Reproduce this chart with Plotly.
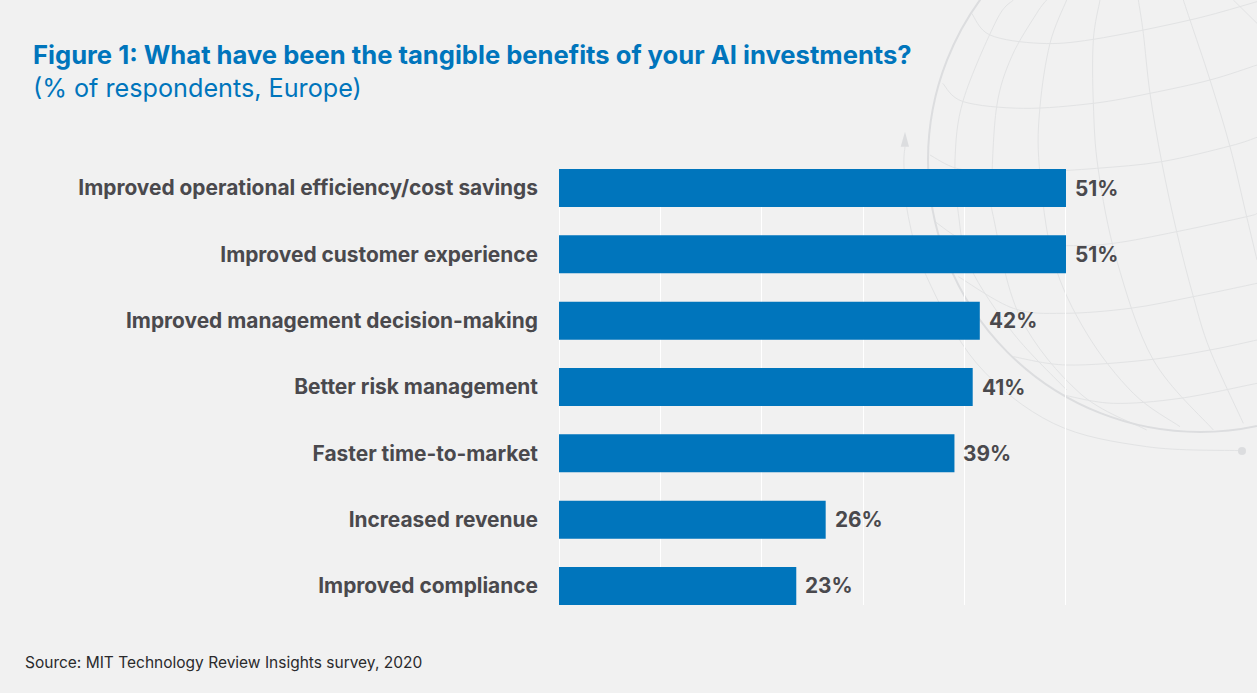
import plotly.graph_objects as go

W, H = 1257, 693
categories = ["Improved operational efficiency/cost savings", "Improved customer experience",
              "Improved management decision-making", "Better risk management",
              "Faster time-to-market", "Increased revenue", "Improved compliance"]
bar_lengths = [50, 50, 41.5, 40.8, 39, 26.3, 23.4]   # as drawn in the picture
printed_labels = ["51%", "51%", "42%", "41%", "39%", "26%", "23%"]
grid_ticks = [0, 10, 20, 30, 40, 50]

BLUE = "#0075bc"
TEXT = "#4a494d"
FONT = "Inter"

# decorative globe, in zoom-crop pixels of the background art
parallels = [
    [(275,40),(330,105),(480,130),(640,118),(930,60),(1131,5)],
    [(188,250),(250,305),(430,325),(640,310),(810,280),(990,240),(1131,195)],
    [(150,465),(230,505),(350,517),(480,515),(650,505),(845,485),(1050,438),(1131,412)],
    [(165,665),(250,720),(350,732),(560,737),(700,730),(890,695),(1100,650),(1131,640)],
    [(235,830),(400,925),(550,940),(750,925),(940,890),(1131,850)],
    [(400,1070),(560,1095),(800,1080),(990,1050),(1131,1020)],
    [(550,1185),(700,1210),(900,1195),(1131,1150)],
]
meridians = [
    [(400,0),(350,60),(250,300),(225,480),(235,640),(270,800),(400,1000),(560,1170)],
    [(500,0),(470,40),(395,170),(350,320),(335,560),(340,650),(420,950),(600,1180),(800,1290)],
    [(560,0),(510,130),(480,320),(478,500),(520,780),(620,1000),(760,1180),(900,1280)],
    [(660,0),(640,120),(640,310),(655,510),(710,780),(820,1080),(1000,1290)],
    [(775,0),(790,100),(810,280),(845,485),(890,695),(940,890),(990,1050),(1090,1270)],
    [(910,0),(930,60),(990,240),(1050,440),(1100,650),(1131,780)],
    [(1060,0),(1131,70)],
]
orbit = [(75,440),(72,500),(85,650),(140,830),(290,1090),(520,1270),(800,1340),(1085,1352)]

def P(p):
    return (880 + p[0] / 3) / W, 1 - (p[1] / 3) / H

def smooth(points):
    pts = [P(p) for p in points]
    d = "M %.5f %.5f" % pts[0]
    for i in range(len(pts) - 1):
        p0 = pts[max(i - 1, 0)]; p1 = pts[i]; p2 = pts[i + 1]; p3 = pts[min(i + 2, len(pts) - 1)]
        c1 = (p1[0] + (p2[0] - p0[0]) / 6, p1[1] + (p2[1] - p0[1]) / 6)
        c2 = (p2[0] - (p3[0] - p1[0]) / 6, p2[1] - (p3[1] - p1[1]) / 6)
        d += " C %.5f %.5f %.5f %.5f %.5f %.5f" % (*c1, *c2, *p2)
    return d

shapes = []
for line in parallels + meridians:
    shapes.append(dict(type="path", xref="paper", yref="paper", layer="below", path=smooth(line),
                       line=dict(color="#e2e3e4", width=1)))
shapes.append(dict(type="path", xref="paper", yref="paper", layer="below", path=smooth(orbit),
                   line=dict(color="#e2e3e4", width=1)))
cx, cy, r = 1200, 160, 272
shapes.append(dict(type="circle", xref="paper", yref="paper", layer="below",
                   x0=(cx - r) / W, x1=(cx + r) / W, y0=1 - (cy + r) / H, y1=1 - (cy - r) / H,
                   line=dict(color="#dcdddf", width=2)))
shapes.append(dict(type="circle", xref="paper", yref="paper", layer="below",
                   x0=(1242 - 4) / W, x1=(1242 + 4) / W, y0=1 - (451 + 4) / H, y1=1 - (451 - 4) / H,
                   fillcolor="#dcdddf", line=dict(width=0)))
a, b, c = P((75,395)), P((62,440)), P((87,440))
shapes.append(dict(type="path", xref="paper", yref="paper", layer="below",
                   path="M %.5f %.5f L %.5f %.5f L %.5f %.5f Z" % (*a, *b, *c),
                   fillcolor="#dcdddf", line=dict(width=0)))

fig = go.Figure(go.Bar(x=bar_lengths, y=categories, orientation="h", width=0.573,
                       marker=dict(color=BLUE, line=dict(width=0)), hoverinfo="skip", cliponaxis=False))

annotations = [
    dict(x=v, y=cat, xref="x", yref="y", text=lab, showarrow=False, xanchor="left", xshift=7,
         font=dict(family=FONT, size=20.8, color=TEXT, weight=700))
    for v, cat, lab in zip(bar_lengths, categories, printed_labels)
]
annotations += [
    dict(x=31 / W, y=1 - 54 / H, xref="paper", yref="paper", xanchor="left", yanchor="middle", showarrow=False,
         text="Figure 1: What have been the tangible benefits of your AI investments?",
         font=dict(family=FONT, size=25.6, color=BLUE, weight=700)),
    dict(x=31 / W, y=1 - 88 / H, xref="paper", yref="paper", xanchor="left", yanchor="middle", showarrow=False,
         text="(% of respondents, Europe)",
         font=dict(family=FONT, size=25.2, color=BLUE, weight=400)),
    dict(x=23 / W, y=1 - 662 / H, xref="paper", yref="paper", xanchor="left", yanchor="middle", showarrow=False,
         text="Source: MIT Technology Review Insights survey, 2020",
         font=dict(family=FONT, size=15.5, color="#2a2a2c", weight=400)),
]

fig.update_layout(
    width=W, height=H, margin=dict(l=0, r=0, t=0, b=0), autosize=False,
    paper_bgcolor="#f1f1f1", plot_bgcolor="rgba(0,0,0,0)", showlegend=False,
    shapes=shapes, annotations=annotations,
    xaxis=dict(domain=[558 / W, 1067 / W], range=[-0.1, 50.1], tickvals=grid_ticks, showticklabels=False,
               showgrid=True, gridcolor="#ffffff", gridwidth=1.2, zeroline=False, showline=False, ticks=""),
    yaxis=dict(domain=[1 - 605 / H, 1 - 169 / H], range=[6.287, -0.287], showgrid=False, zeroline=False,
               showline=False, ticks="", ticklabelstandoff=19,
               tickfont=dict(family=FONT, size=20.9, color=TEXT, weight=700)),
)
fig.write_html("out.html", config=dict(displayModeBar=False),
               post_script="document.body.style.margin='0';document.body.style.background='#f1f1f1';")
